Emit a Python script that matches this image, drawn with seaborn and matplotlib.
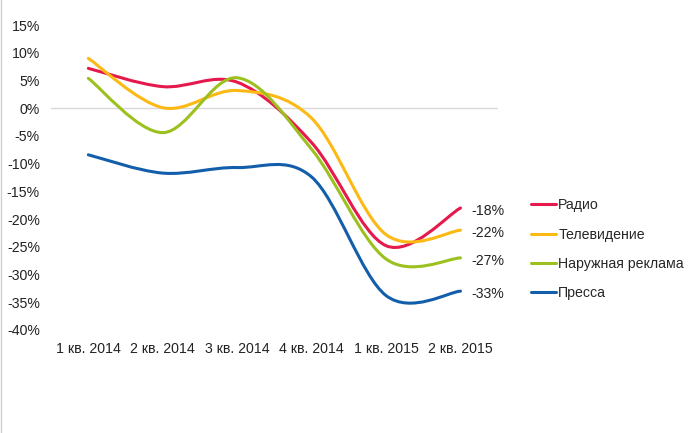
import numpy as np
import matplotlib
matplotlib.use("Agg")
import matplotlib.pyplot as plt
from matplotlib.path import Path
from matplotlib.patches import PathPatch
from matplotlib.lines import Line2D
import seaborn as sns

# Data (percent change vs. previous year)
quarters = ["1 кв. 2014", "2 кв. 2014", "3 кв. 2014", "4 кв. 2014", "1 кв. 2015", "2 кв. 2015"]
radio = [7.2, 3.9, 4.7, -6.2, -24.8, -18]
tv = [9.0, 0.1, 3.2, -1.8, -22.8, -22]
outdoor = [5.4, -4.4, 5.5, -7.4, -27.2, -27]
press = [-8.4, -11.7, -10.7, -12.4, -33.8, -33]
series_names = ["Радио", "Телевидение", "Наружная реклама", "Пресса"]
end_labels = ["-18%", "-22%", "-27%", "-33%"]
colors = ["#E5194B", "#FDB913", "#9CC11E", "#135EAA"]

sns.set_theme(style="white")
plt.rcParams["font.family"] = ["Liberation Sans", "DejaVu Sans"]
fs = 10.2


def smooth_path(xs, ys):
    """Bezier path through the points, like Excel's smoothed line."""
    pts = np.column_stack([xs, ys]).astype(float)
    padded = np.vstack([pts[0], pts, pts[-1]])
    verts = [pts[0]]
    codes = [Path.MOVETO]
    for i in range(len(pts) - 1):
        p0, p1, p2, p3 = padded[i], padded[i + 1], padded[i + 2], padded[i + 3]
        c1 = p1 + (p2 - p0) / 6.0
        c2 = p2 - (p3 - p1) / 6.0
        verts += [c1, c2, p2]
        codes += [Path.CURVE4] * 3
    return Path(verts, codes)


fig = plt.figure(figsize=(7, 4.33), dpi=100)
ax = fig.add_axes([0.073, 0.238, 0.638, 0.704])

x = np.arange(len(quarters))
data = [radio, tv, outdoor, press]
for vals, col, lab in zip(data, colors, end_labels):
    ax.add_patch(PathPatch(smooth_path(x, vals), facecolor="none", edgecolor=col,
                           lw=2.2, capstyle="round", joinstyle="round"))
    ax.annotate(lab, (x[-1], vals[-1]), xytext=(8, -2), textcoords="offset points",
                ha="left", va="center", fontsize=fs, color="#222222")

ax.axhline(0, color="#D9D9D9", lw=1, zorder=0)
ax.set_xlim(-0.5, len(quarters) - 0.5)
ax.set_ylim(-40, 15)
ax.set_yticks(np.arange(-40, 16, 5))
ax.set_yticklabels([f"{v}%" for v in np.arange(-40, 16, 5)])
ax.set_xticks(x)
ax.set_xticklabels(quarters)
ax.tick_params(axis="y", length=0, pad=8, labelsize=fs, labelcolor="#222222")
ax.tick_params(axis="x", length=0, pad=9, labelsize=fs, labelcolor="#222222")
for s in ax.spines.values():
    s.set_visible(False)
ax.grid(False)

handles = [Line2D([0], [0], color=c, lw=2.2) for c in colors]
fig.legend(handles, series_names, loc="upper left", bbox_to_anchor=(0.75, 0.555),
           frameon=False, fontsize=fs, handlelength=1.8, handletextpad=0.15,
           labelspacing=1.08, borderaxespad=0)

# thin border on the left edge of the image
fig.add_artist(Line2D([0.001, 0.001], [0, 1], transform=fig.transFigure,
                      color="#D0D0D0", lw=1))

fig.savefig("out.png", dpi=100)
